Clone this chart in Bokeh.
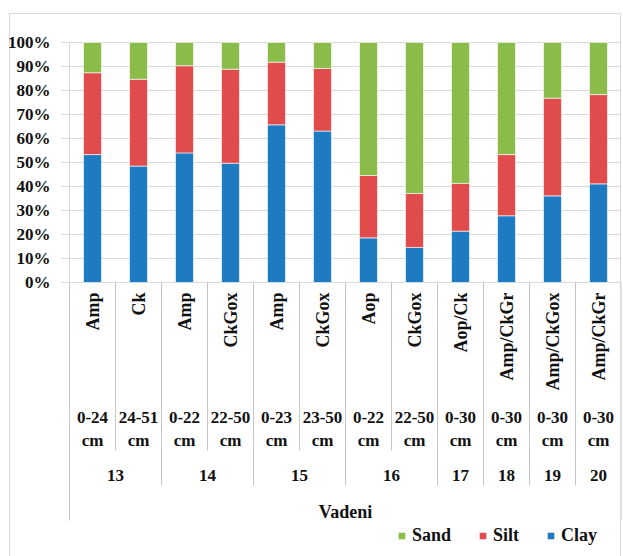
import math
from bokeh.plotting import figure
from bokeh.models import ColumnDataSource, FixedTicker, Legend, LegendItem, Range1d
from bokeh.core.properties import value
from bokeh.embed import file_html
from bokeh.resources import INLINE

# ---- data ----
sites = ["13", "13", "14", "14", "15", "15", "16", "16", "17", "18", "19", "20"]
depths = ["0-24", "24-51", "0-22", "22-50", "0-23", "23-50", "0-22", "22-50",
          "0-30", "0-30", "0-30", "0-30"]
depth_unit = "cm"
horizons = ["Amp", "Ck", "Amp", "CkGox", "Amp", "CkGox", "Aop", "CkGox",
            "Aop/Ck", "Amp/CkGr", "Amp/CkGox", "Amp/CkGr"]
clay = [53.3, 48.5, 54.0, 49.7, 65.7, 63.1, 18.6, 14.6, 21.4, 27.8, 36.1, 41.1]
silt = [34.1, 36.2, 36.3, 39.2, 26.1, 26.1, 26.0, 22.5, 19.9, 25.5, 40.7, 37.2]
sand = [12.6, 15.3, 9.7, 11.1, 8.2, 10.8, 55.4, 62.9, 58.7, 46.7, 23.2, 21.7]
location = "Vadeni"
series_names = ["Clay", "Silt", "Sand"]
colors = ["#1f7bc1", "#e04c4b", "#8bbb49"]
y_ticks = [0, 10, 20, 30, 40, 50, 60, 70, 80, 90, 100]
y_tick_labels = ["0%", "10%", "20%", "30%", "40%", "50%", "60%", "70%", "80%", "90%", "100%"]

# ---- layout helpers ----
FONT_NAME = "Liberation Serif"
FONT = value(FONT_NAME)
TXT = "#111111"
SEP = "#c6c6c6"
PX_PER_UNIT = 2.4
ZERO_PX = 282  # canvas row of the 0% line
CAT_PX = 46    # width of one category in pixels


def dy(px):
    """canvas pixel row -> data y"""
    return (ZERO_PX - px) / PX_PER_UNIT


G = "linear-gradient(#d9d9d9,#d9d9d9)"
outer_box = (f"{G} 9px 13px / 612px 1px no-repeat, "
             f"{G} 9px 13px / 1px 543px no-repeat, "
             f"{G} 620px 13px / 1px 543px no-repeat, #ffffff")

n = len(clay)
W, H = 623, 556
p = figure(width=W, height=H, output_backend="svg", toolbar_location=None,
           x_range=Range1d(-2 / CAT_PX, n), y_range=Range1d(dy(H), dy(0)),
           min_border_left=67, min_border_right=2, min_border_top=0,
           min_border_bottom=0, outline_line_color=None,
           border_fill_alpha=0, background_fill_alpha=0,
           styles={"background": outer_box})

src = ColumnDataSource(dict(x=[i + 0.5 for i in range(n)], clay=clay, silt=silt, sand=sand))
rs = p.vbar_stack(["clay", "silt", "sand"], x="x", width=0.39, source=src,
                  color=colors, line_color="white", line_width=0.6)

# axes / grid
p.xaxis.visible = False
p.xgrid.visible = False
ya = p.yaxis[0]
ya.ticker = FixedTicker(ticks=y_ticks)
ya.major_label_overrides = {t: l for t, l in zip(y_ticks, y_tick_labels)}
ya.axis_line_color = None
ya.major_tick_line_color = "#d9d9d9"
ya.major_tick_out = 6
ya.major_tick_in = 0
ya.minor_tick_line_color = None
ya.major_label_standoff = 11
ya.major_label_text_font = FONT_NAME
ya.major_label_text_font_style = "bold"
ya.major_label_text_font_size = "17px"
ya.major_label_text_color = TXT
p.ygrid.ticker = FixedTicker(ticks=y_ticks)
p.ygrid.grid_line_color = "#d9d9d9"

# category separators below the axis
inner_end, group_end, outer_end = dy(450), dy(485), dy(520)
bounds = [0]
for i in range(1, n):
    if sites[i] != sites[i - 1]:
        bounds.append(i)
bounds.append(n)
sx, sy1 = [], []
for k in range(n + 1):
    sx.append(k)
    if k == 0 or k == n:
        sy1.append(outer_end)
    elif k in bounds:
        sy1.append(group_end)
    else:
        sy1.append(inner_end)
p.segment(x0=sx, y0=[0] * len(sx), x1=sx, y1=sy1, line_color=SEP, line_width=1)
p.segment(x0=[0], y0=[0], x1=[0], y1=[100], line_color="#d9d9d9", line_width=1)

# horizon labels (rotated)
p.text(x=[i + 0.5 for i in range(n)], y=[dy(292)] * n, text=horizons, angle=math.pi / 2,
       text_align="right", text_baseline="middle", text_font=FONT,
       text_font_style="bold", text_font_size="18px", text_color=TXT)
# depth labels
p.text(x=[i + 0.5 for i in range(n)], y=[dy(417)] * n, text=depths,
       text_align="center", text_baseline="middle", text_font=FONT,
       text_font_style="bold", text_font_size="17px", text_color=TXT)
p.text(x=[i + 0.5 for i in range(n)], y=[dy(440)] * n, text=[depth_unit] * n,
       text_align="center", text_baseline="middle", text_font=FONT,
       text_font_style="bold", text_font_size="17px", text_color=TXT)
# site labels
gx, gt = [], []
for a, b in zip(bounds[:-1], bounds[1:]):
    gx.append((a + b) / 2)
    gt.append(sites[a])
p.text(x=gx, y=[dy(475)] * len(gx), text=gt, text_align="center", text_baseline="middle",
       text_font=FONT, text_font_style="bold", text_font_size="17px", text_color=TXT)
# location label
p.text(x=[n / 2], y=[dy(511)], text=[location], text_align="center", text_baseline="middle",
       text_font=FONT, text_font_style="bold", text_font_size="18px", text_color=TXT)

legend = Legend(items=[LegendItem(label=series_names[2], renderers=[rs[2]]),
                       LegendItem(label=series_names[1], renderers=[rs[1]]),
                       LegendItem(label=series_names[0], renderers=[rs[0]])],
                orientation="horizontal", location=(330, 10),
                glyph_width=9, glyph_height=9, label_standoff=6, spacing=27,
                padding=0, margin=0, border_line_color=None, background_fill_alpha=0,
                label_text_font=FONT_NAME, label_text_font_style="bold",
                label_text_font_size="18px", label_text_color=TXT)
p.add_layout(legend, "center")

open("out.html", "w").write(file_html(p, INLINE))
